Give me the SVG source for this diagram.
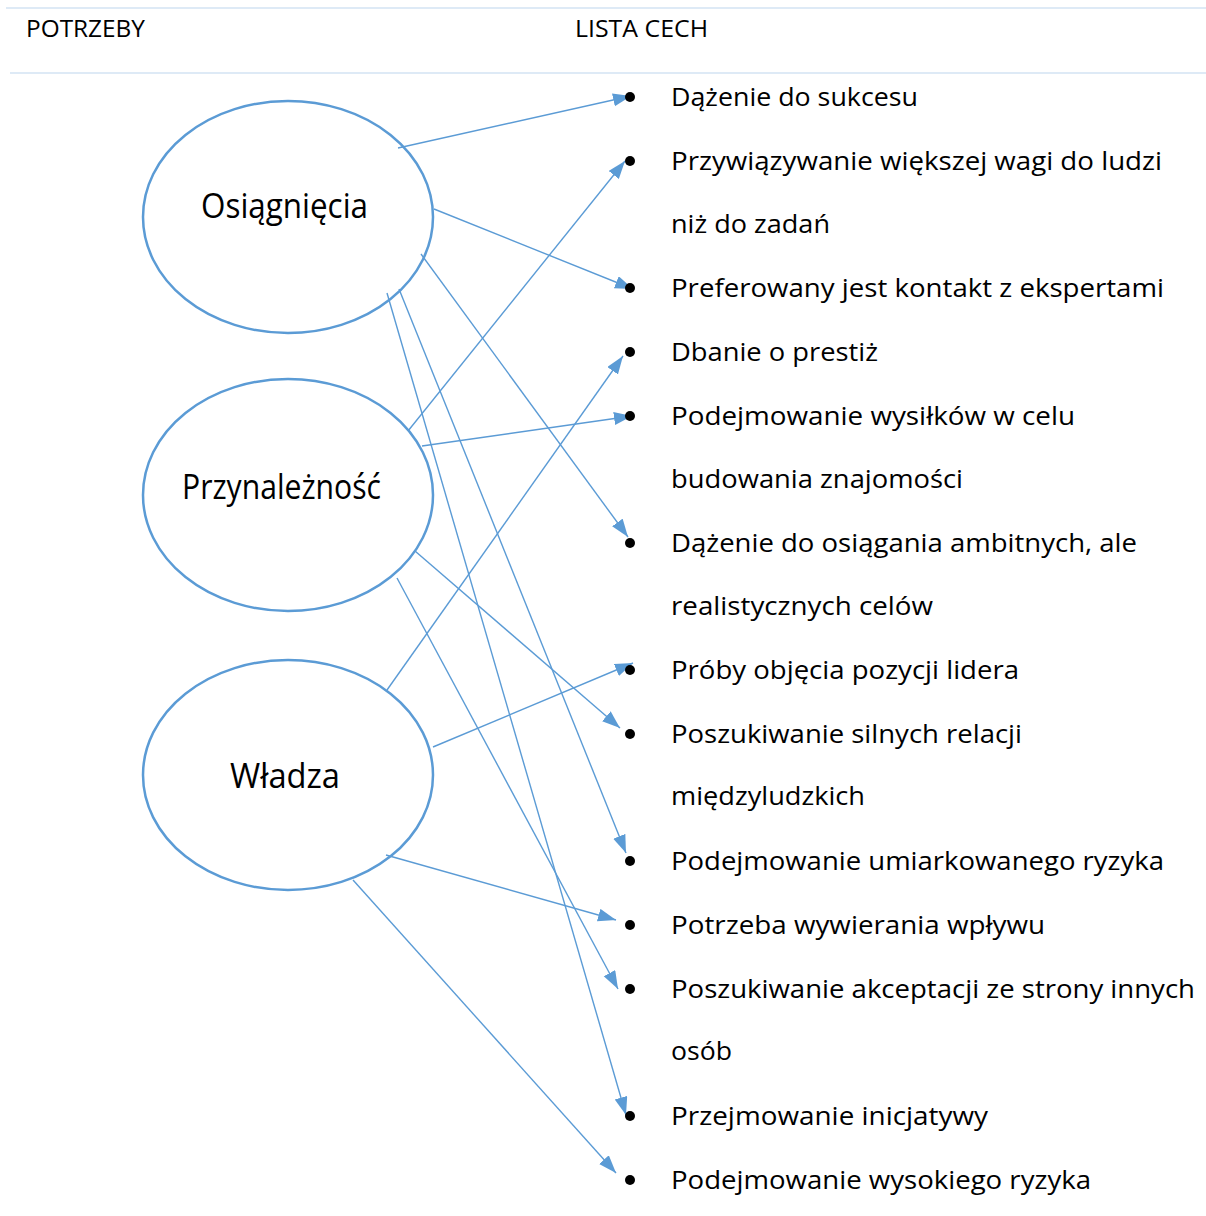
<svg xmlns="http://www.w3.org/2000/svg" width="1206" height="1216" viewBox="0 0 1206 1216">
<style>
.hdr{font-family:"Open Sans","Liberation Sans",sans-serif;font-size:24px;fill:#000}
.item{font-family:"Open Sans","Liberation Sans",sans-serif;font-size:26px;fill:#000}
.lbl{font-family:"Open Sans","Liberation Sans",sans-serif;font-size:34px;fill:#000}
.node{fill:#fff;stroke:#5B9BD5;stroke-width:2.5}
.conn{stroke:#5B9BD5;stroke-width:1.4;fill:none;marker-end:url(#arr)}
.bul{fill:#000}
.rule{stroke:#DEEAF6;stroke-width:2}
</style>
<defs>
<marker id="arr" markerUnits="userSpaceOnUse" markerWidth="20" markerHeight="14" refX="18" refY="6.5" orient="auto">
<path d="M0,0 L18,6.5 L0,13 z" fill="#5B9BD5"/>
</marker>
</defs>
<rect width="1206" height="1216" fill="#fff"/>
<g id="header">
<line class="rule" x1="6" y1="8" x2="1206" y2="8"/>
<line class="rule" x1="10" y1="73" x2="1206" y2="73"/>
<text class="hdr" x="26" y="37" textLength="119" lengthAdjust="spacingAndGlyphs">POTRZEBY</text>
<text class="hdr" x="575" y="37" textLength="133" lengthAdjust="spacingAndGlyphs">LISTA CECH</text>
</g>
<g id="node-osiagniecia">
<ellipse class="node" cx="288" cy="217" rx="145" ry="116"/>
<text class="lbl" x="201" y="218" textLength="167" lengthAdjust="spacingAndGlyphs">Osiągnięcia</text>
</g>
<g id="node-przynaleznosc">
<ellipse class="node" cx="288" cy="495" rx="145" ry="116"/>
<text class="lbl" x="182" y="499" textLength="199" lengthAdjust="spacingAndGlyphs">Przynależność</text>
</g>
<g id="node-wladza">
<ellipse class="node" cx="288" cy="775" rx="145" ry="115"/>
<text class="lbl" x="230" y="788" textLength="110" lengthAdjust="spacingAndGlyphs">Władza</text>
</g>
<g id="connectors">
<line class="conn" x1="398" y1="148" x2="631" y2="96"/>
<line class="conn" x1="434" y1="209" x2="633" y2="289"/>
<line class="conn" x1="421" y1="254" x2="628" y2="537"/>
<line class="conn" x1="399" y1="289" x2="626" y2="853"/>
<line class="conn" x1="387" y1="293" x2="626" y2="1115"/>
<line class="conn" x1="408" y1="431" x2="625" y2="161"/>
<line class="conn" x1="422" y1="446" x2="632" y2="416"/>
<line class="conn" x1="415" y1="551" x2="620" y2="728"/>
<line class="conn" x1="397" y1="578" x2="618" y2="989"/>
<line class="conn" x1="387" y1="690" x2="623" y2="356"/>
<line class="conn" x1="433" y1="747" x2="633" y2="663"/>
<line class="conn" x1="386" y1="855" x2="616" y2="920"/>
<line class="conn" x1="353" y1="880" x2="616" y2="1173"/>
</g>
<g id="list">
<circle class="bul" cx="630" cy="97" r="5"/>
<circle class="bul" cx="630" cy="161" r="5"/>
<circle class="bul" cx="630" cy="288" r="5"/>
<circle class="bul" cx="630" cy="352" r="5"/>
<circle class="bul" cx="630" cy="416" r="5"/>
<circle class="bul" cx="630" cy="543" r="5"/>
<circle class="bul" cx="630" cy="670" r="5"/>
<circle class="bul" cx="630" cy="734" r="5"/>
<circle class="bul" cx="630" cy="861" r="5"/>
<circle class="bul" cx="630" cy="925" r="5"/>
<circle class="bul" cx="630" cy="989" r="5"/>
<circle class="bul" cx="630" cy="1116" r="5"/>
<circle class="bul" cx="630" cy="1180" r="5"/>
<text class="item" x="671" y="106" textLength="247" lengthAdjust="spacingAndGlyphs">Dążenie do sukcesu</text>
<text class="item" x="671" y="170" textLength="491" lengthAdjust="spacingAndGlyphs">Przywiązywanie większej wagi do ludzi</text>
<text class="item" x="671" y="233" textLength="159" lengthAdjust="spacingAndGlyphs">niż do zadań</text>
<text class="item" x="671" y="297" textLength="493" lengthAdjust="spacingAndGlyphs">Preferowany jest kontakt z ekspertami</text>
<text class="item" x="671" y="361" textLength="207" lengthAdjust="spacingAndGlyphs">Dbanie o prestiż</text>
<text class="item" x="671" y="425" textLength="404" lengthAdjust="spacingAndGlyphs">Podejmowanie wysiłków w celu</text>
<text class="item" x="671" y="488" textLength="292" lengthAdjust="spacingAndGlyphs">budowania znajomości</text>
<text class="item" x="671" y="552" textLength="466" lengthAdjust="spacingAndGlyphs">Dążenie do osiągania ambitnych, ale</text>
<text class="item" x="671" y="615" textLength="262" lengthAdjust="spacingAndGlyphs">realistycznych celów</text>
<text class="item" x="671" y="679" textLength="348" lengthAdjust="spacingAndGlyphs">Próby objęcia pozycji lidera</text>
<text class="item" x="671" y="743" textLength="351" lengthAdjust="spacingAndGlyphs">Poszukiwanie silnych relacji</text>
<text class="item" x="671" y="805" textLength="194" lengthAdjust="spacingAndGlyphs">międzyludzkich</text>
<text class="item" x="671" y="870" textLength="493" lengthAdjust="spacingAndGlyphs">Podejmowanie umiarkowanego ryzyka</text>
<text class="item" x="671" y="934" textLength="374" lengthAdjust="spacingAndGlyphs">Potrzeba wywierania wpływu</text>
<text class="item" x="671" y="998" textLength="524" lengthAdjust="spacingAndGlyphs">Poszukiwanie akceptacji ze strony innych</text>
<text class="item" x="671" y="1060" textLength="61" lengthAdjust="spacingAndGlyphs">osób</text>
<text class="item" x="671" y="1125" textLength="317" lengthAdjust="spacingAndGlyphs">Przejmowanie inicjatywy</text>
<text class="item" x="671" y="1189" textLength="420" lengthAdjust="spacingAndGlyphs">Podejmowanie wysokiego ryzyka</text>
</g>
</svg>
